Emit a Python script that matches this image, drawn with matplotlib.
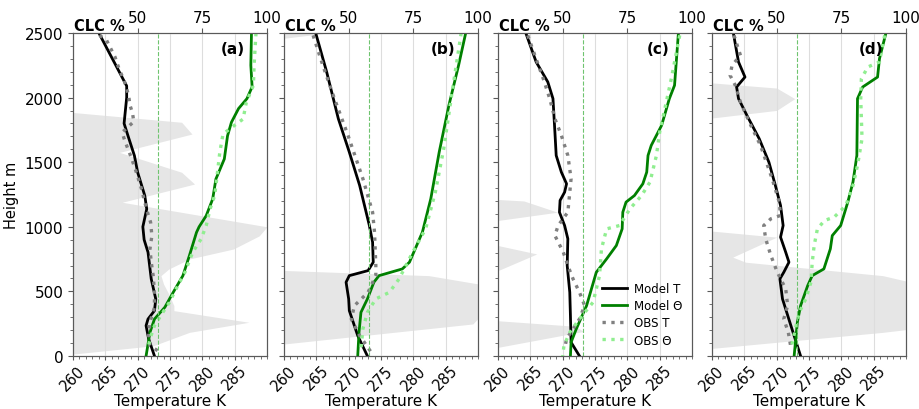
import numpy as np
import matplotlib
matplotlib.use("Agg")
import matplotlib.pyplot as plt
from matplotlib.ticker import MultipleLocator

# (height m, temperature K) pairs for each sounding
a_model_t = [(2500, 264.0), (2090, 268.3), (2000, 268.3), (1800, 267.9), (1705, 268.5), (1550, 269.5),
             (1421, 270.0), (1241, 271.1), (1138, 271.4), (1000, 270.8), (900, 271.0), (803, 271.6),
             (596, 272.1), (441, 272.8), (351, 272.6), (286, 271.6), (235, 271.3), (132, 271.7), (0, 272.6)]
a_obs_t = [(2482, 264.1), (2443, 265.2), (2314, 266.5), (2211, 267.2), (2134, 267.9), (2018, 268.6),
           (1943, 268.8), (1881, 269.2), (1814, 269.4), (1731, 267.6), (1667, 268.0), (1602, 268.5),
           (1538, 269.0), (1421, 269.8), (1292, 270.6), (1190, 271.1), (1099, 271.6), (1035, 272.0),
           (931, 272.2), (828, 271.9), (725, 272.1), (622, 272.4), (493, 272.6), (377, 272.6),
           (261, 271.9), (158, 271.7), (79, 271.9), (41, 273.1)]
a_model_th = [(2500, 287.6), (2250, 287.5), (2083, 287.7), (1992, 286.9), (1915, 285.6), (1809, 284.5),
              (1705, 283.9), (1525, 283.4), (1370, 282.1), (1215, 281.6), (1086, 280.6), (1000, 279.5),
              (957, 279.1), (777, 278.0), (622, 277.0), (493, 275.5), (377, 274.2), (286, 272.6),
              (183, 271.9), (0, 271.3)]
a_obs_th = [(2500, 288.3), (2250, 288.0), (2095, 287.9), (1963, 286.8), (1834, 286.3), (1760, 284.3),
            (1718, 283.2), (1576, 282.7), (1447, 282.4), (1318, 282.1), (1241, 281.9), (1138, 281.2),
            (1009, 280.6), (905, 279.8), (802, 278.5), (647, 277.3), (544, 276.2), (415, 274.9),
            (338, 273.9), (235, 272.6), (132, 271.9), (54, 271.6)]

b_model_t = [(2500, 264.9), (2198, 266.6), (1837, 268.4), (1578, 270.1), (1320, 271.7), (1010, 273.2),
             (881, 273.7), (726, 273.8), (661, 273.0), (622, 270.1), (571, 269.6), (442, 270.0),
             (351, 270.1), (158, 271.4), (0, 272.9)]
b_obs_t = [(2482, 264.5), (2250, 266.0), (1992, 267.8), (1707, 269.9), (1372, 272.2), (1113, 273.7),
           (958, 274.0), (700, 274.2), (622, 274.2), (493, 273.0), (390, 270.9), (287, 270.4),
           (158, 271.7), (28, 273.5)]
b_model_th = [(2500, 288.1), (2250, 287.0), (1940, 285.5), (1578, 284.0), (1217, 282.7), (958, 281.4),
              (726, 279.4), (674, 278.3), (622, 274.7), (571, 273.9), (442, 272.9), (338, 271.9),
              (183, 271.6), (0, 271.4)]
b_obs_th = [(2500, 287.4), (2043, 286.0), (1604, 284.7), (1268, 283.4), (984, 281.9), (803, 279.9),
            (597, 277.8), (493, 276.3), (442, 274.2), (338, 272.9), (209, 272.2), (54, 271.9)]

c_model_t = [(2500, 264.3), (2276, 265.9), (2121, 267.7), (1992, 268.5), (1733, 268.8), (1552, 269.0),
             (1423, 269.8), (1333, 270.6), (1268, 270.3), (1204, 269.6), (1113, 269.5), (1010, 270.3),
             (907, 270.8), (700, 270.7), (493, 271.1), (313, 271.2), (106, 271.3), (0, 272.6)]
c_obs_t = [(2482, 264.6), (2327, 265.7), (2146, 267.0), (1992, 268.0), (1837, 268.8), (1707, 269.8),
           (1552, 270.8), (1372, 271.3), (1268, 271.1), (1113, 270.8), (1010, 269.3), (932, 268.8),
           (803, 270.1), (700, 270.8), (597, 271.6), (493, 272.6), (390, 273.4), (287, 272.6),
           (209, 271.6), (132, 270.6), (54, 270.3)]
c_model_th = [(2500, 287.9), (2095, 287.3), (1992, 286.5), (1785, 285.3), (1630, 283.7), (1552, 283.2),
              (1423, 283.0), (1333, 282.4), (1242, 281.1), (1191, 279.8), (1113, 279.3), (984, 279.2),
              (855, 278.3), (752, 276.8), (648, 275.2), (390, 273.7), (209, 272.1), (106, 271.3), (0, 271.2)]
c_obs_th = [(2482, 288.1), (2146, 286.8), (1914, 285.8), (1733, 285.0), (1552, 284.5), (1346, 283.5),
            (1242, 282.2), (1139, 280.4), (1010, 278.8), (984, 276.8), (829, 276.0), (622, 275.7),
            (416, 274.7), (287, 272.6), (183, 271.1), (80, 270.2), (0, 270.0)]

d_model_t = [(2500, 263.3), (2276, 264.1), (2159, 265.1), (2082, 263.8), (1992, 264.1), (1862, 265.4),
             (1682, 267.3), (1500, 268.8), (1320, 269.8), (1165, 270.6), (1010, 271.0), (920, 270.6),
             (803, 271.4), (726, 271.9), (648, 271.1), (597, 270.5), (442, 270.9), (235, 272.2), (0, 273.7)]
d_obs_t = [(2482, 263.4), (2327, 264.4), (2250, 263.1), (2172, 262.8), (2095, 263.6), (1966, 264.4),
           (1785, 266.0), (1630, 267.5), (1372, 269.3), (1191, 270.4), (1088, 270.6), (1062, 269.1),
           (1010, 268.0), (907, 268.3), (778, 269.1), (648, 270.1), (519, 271.4), (390, 271.7),
           (287, 271.1), (183, 271.8), (67, 272.2)]
d_model_th = [(2500, 286.9), (2302, 285.9), (2159, 285.6), (2082, 283.3), (1992, 282.5), (1552, 282.4),
              (1346, 281.8), (1191, 281.0), (1010, 279.9), (932, 278.6), (829, 278.3), (674, 277.3),
              (622, 275.5), (545, 274.8), (390, 273.7), (261, 273.2), (0, 272.7)]
d_obs_th = [(2482, 286.7), (2276, 285.9), (2237, 284.1), (2146, 283.1), (1992, 283.0), (1682, 283.2),
            (1475, 282.5), (1320, 281.8), (1165, 280.7), (1075, 278.9), (1049, 277.4), (984, 276.3),
            (855, 275.8), (726, 275.5), (571, 275.3), (442, 274.5), (338, 273.5), (235, 273.0), (54, 272.2)]

# cloud cover (height m, CLC %)
a_clc = [(2500, 0), (1930, 0), (1809, 67), (1718, 71), (1576, 43), (1422, 67), (1331, 72), (1190, 44),
         (1000, 100), (930, 97), (828, 87), (751, 70), (673, 62), (622, 59), (557, 60), (480, 62),
         (390, 64), (351, 64), (261, 93), (183, 70), (79, 56), (15, 25), (8, 0), (0, 0)]
b_clc = [(2500, 42), (2400, 0), (680, 0), (622, 81), (558, 100), (290, 100), (248, 98), (93, 25),
         (80, 0), (0, 0)]
c_clc = [(2500, 0), (1240, 0), (1200, 35), (1113, 48), (1049, 25), (1035, 0), (875, 0), (868, 22),
         (790, 40), (661, 25), (645, 0), (290, 0), (280, 20), (230, 55), (190, 58), (67, 25),
         (55, 0), (0, 0)]
d_clc = [(2500, 0), (2140, 0), (2130, 15), (2074, 50), (1992, 57), (1901, 50), (1842, 25), (1830, 0),
         (1000, 0), (995, 10), (920, 50), (765, 33), (726, 38), (622, 91), (571, 102), (209, 102),
         (183, 91), (59, 25), (45, 0), (0, 0)]

panels = ["(a)", "(b)", "(c)", "(d)"]
model_t = [a_model_t, b_model_t, c_model_t, d_model_t]
obs_t = [a_obs_t, b_obs_t, c_obs_t, d_obs_t]
model_th = [a_model_th, b_model_th, c_model_th, d_model_th]
obs_th = [a_obs_th, b_obs_th, c_obs_th, d_obs_th]
clc = [a_clc, b_clc, c_clc, d_clc]

fig = plt.figure(figsize=(9.2, 4.1), dpi=100)
lefts = [73, 284, 498, 712]
spine_col = "0.35"

for i, left in enumerate(lefts):
    ax = fig.add_axes([left / 920, 53 / 410, 194 / 920, 323 / 410])
    ax2 = ax.twiny()
    # temperature axes above the cloud fill
    ax.set_zorder(ax2.get_zorder() + 1)
    ax.patch.set_visible(False)

    h, c = np.array(clc[i]).T
    ax2.fill_betweenx(h, 0, c, color="#e6e6e6", lw=0)
    ax2.set_xlim(25, 100)
    ax2.set_xticks([50, 75, 100])
    ax2.tick_params(axis="x", labelsize=11, pad=2, length=3.5, color=spine_col)

    for data, col, ls, lw, lab in [(model_t[i], "black", "-", 2.0, "Model T"),
                                   (model_th[i], "green", "-", 2.0, "Model Θ"),
                                   (obs_t[i], "grey", ":", 2.4, "OBS T"),
                                   (obs_th[i], "lightgreen", ":", 2.4, "OBS Θ")]:
        hh, tt = np.array(data).T
        ax.plot(tt, hh, color=col, ls=ls, lw=lw, label=lab)

    ax.axvline(273.15, color="#6fc46f", ls="--", lw=0.8)
    ax.set_xlim(260, 290)
    ax.set_ylim(0, 2500)
    ax.set_xticks(np.arange(260, 290, 5))
    ax.xaxis.set_minor_locator(MultipleLocator(1))
    ax.set_yticks(np.arange(0, 2501, 500))
    ax.yaxis.set_minor_locator(MultipleLocator(100))
    ax.grid(axis="x", which="major", color="#dddddd", lw=0.8)
    ax.tick_params(axis="x", labelsize=10.5, rotation=45, pad=1.5, length=3, color=spine_col)
    ax.tick_params(axis="x", which="minor", length=2, color=spine_col)
    ax.tick_params(axis="y", labelsize=11, color=spine_col)
    ax.tick_params(axis="y", which="minor", length=2, color=spine_col)
    ax.set_xlabel("Temperature K", fontsize=11, labelpad=0)
    for a in (ax, ax2):
        for s in a.spines.values():
            s.set_color(spine_col)
    if i == 0:
        ax.set_ylabel("Height m", fontsize=10.5)
    else:
        ax.set_yticklabels([])

    ax.text(0.005, 1.0, "CLC %", transform=ax.transAxes, fontsize=10.5, fontweight="bold",
            ha="left", va="bottom")
    ax.text(0.885, 0.975, panels[i], transform=ax.transAxes, fontsize=11, fontweight="bold",
            ha="right", va="top")
    if i == 2:
        ax.legend(loc="lower right", frameon=False, fontsize=8.5, handlelength=2.1,
                  handletextpad=0.6, borderaxespad=0.4, labelspacing=0.35)

fig.savefig("out.png", dpi=100)
